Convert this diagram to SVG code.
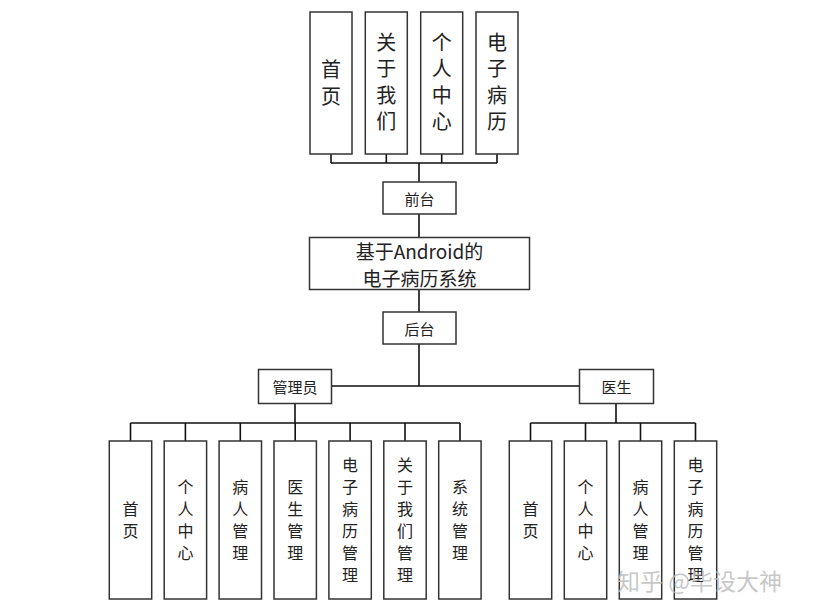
<svg xmlns="http://www.w3.org/2000/svg" width="814" height="616" viewBox="0 0 814 616">
<style>
.box{fill:#fff;stroke:#333;stroke-width:1.5}
.ln{fill:none;stroke:#111;stroke-width:1.6}
text{font-family:"Noto Sans CJK SC","Noto Sans",sans-serif;fill:#222;text-anchor:middle;dominant-baseline:central}
.v1{font-size:20px;writing-mode:vertical-rl;letter-spacing:6.5px}
.v2{font-size:16px;writing-mode:vertical-rl;letter-spacing:6px}
.s{font-size:15px}
.m{font-size:19px}
.wm{font-size:23px;fill:#bdbdbd;fill-opacity:0.85;text-anchor:start}
</style>
<rect width="814" height="616" fill="#fff"/>
<g id="connectors">
<path class="ln" d="M331,154V163M386.3,154V163M441.7,154V163M497,154V163M331,163H497M419,163V182"/>
<path class="ln" d="M419,214V237M419,289V312M419,344V386M332,386H579"/>
<path class="ln" d="M295,403V423M130.5,423H460M130.5,423V441M185.4,423V441M240.3,423V441M295.2,423V441M350.1,423V441M405,423V441M460,423V441"/>
<path class="ln" d="M616,403V423M530.5,423H695.5M530.5,423V441M585.5,423V441M640.5,423V441M695.5,423V441"/>
</g>
<g id="top1"><rect class="box" x="310" y="12" width="42" height="142"/><text class="v1" x="331" y="86">首页</text></g>
<g id="top2"><rect class="box" x="365.3" y="12" width="42" height="142"/><text class="v1" x="386.3" y="85">关于我们</text></g>
<g id="top3"><rect class="box" x="420.7" y="12" width="42" height="142"/><text class="v1" x="441.7" y="85">个人中心</text></g>
<g id="top4"><rect class="box" x="476" y="12" width="42" height="142"/><text class="v1" x="497" y="85">电子病历</text></g>
<g id="qiantai"><rect class="box" x="383" y="182" width="73" height="32"/><text class="s" x="419.5" y="198">前台</text></g>
<g id="main"><rect class="box" x="309.5" y="237.5" width="220" height="52"/><text class="m" x="419.5" y="250.5">基于Android的</text><text class="m" x="419.5" y="277.5">电子病历系统</text></g>
<g id="houtai"><rect class="box" x="383" y="312" width="73" height="32"/><text class="s" x="419.5" y="328">后台</text></g>
<g id="admin"><rect class="box" x="258.5" y="369.5" width="73" height="34"/><text class="s" x="295" y="386.5">管理员</text></g>
<g id="doctor"><rect class="box" x="579.5" y="369.5" width="74" height="34"/><text class="s" x="616.5" y="386.5">医生</text></g>
<g id="a1"><rect class="box" x="109.3" y="441" width="42.4" height="158"/><text class="v2" x="130.5" y="523">首页</text></g>
<g id="a2"><rect class="box" x="164.2" y="441" width="42.4" height="158"/><text class="v2" x="185.4" y="523">个人中心</text></g>
<g id="a3"><rect class="box" x="219.1" y="441" width="42.4" height="158"/><text class="v2" x="240.3" y="523">病人管理</text></g>
<g id="a4"><rect class="box" x="274" y="441" width="42.4" height="158"/><text class="v2" x="295.2" y="523">医生管理</text></g>
<g id="a5"><rect class="box" x="328.9" y="441" width="42.4" height="158"/><text class="v2" x="350.1" y="523">电子病历管理</text></g>
<g id="a6"><rect class="box" x="383.8" y="441" width="42.4" height="158"/><text class="v2" x="405" y="523">关于我们管理</text></g>
<g id="a7"><rect class="box" x="438.7" y="441" width="42.4" height="158"/><text class="v2" x="459.9" y="523">系统管理</text></g>
<g id="d1"><rect class="box" x="509.3" y="441" width="42.4" height="158"/><text class="v2" x="530.5" y="523">首页</text></g>
<g id="d2"><rect class="box" x="564.3" y="441" width="42.4" height="158"/><text class="v2" x="585.5" y="523">个人中心</text></g>
<g id="d3"><rect class="box" x="619.3" y="441" width="42.4" height="158"/><text class="v2" x="640.5" y="523">病人管理</text></g>
<g id="d4"><rect class="box" x="674.3" y="441" width="42.4" height="158"/><text class="v2" x="695.5" y="523">电子病历管理</text></g>
<text class="wm" x="617" y="580">知乎 @毕设大神</text>
</svg>
